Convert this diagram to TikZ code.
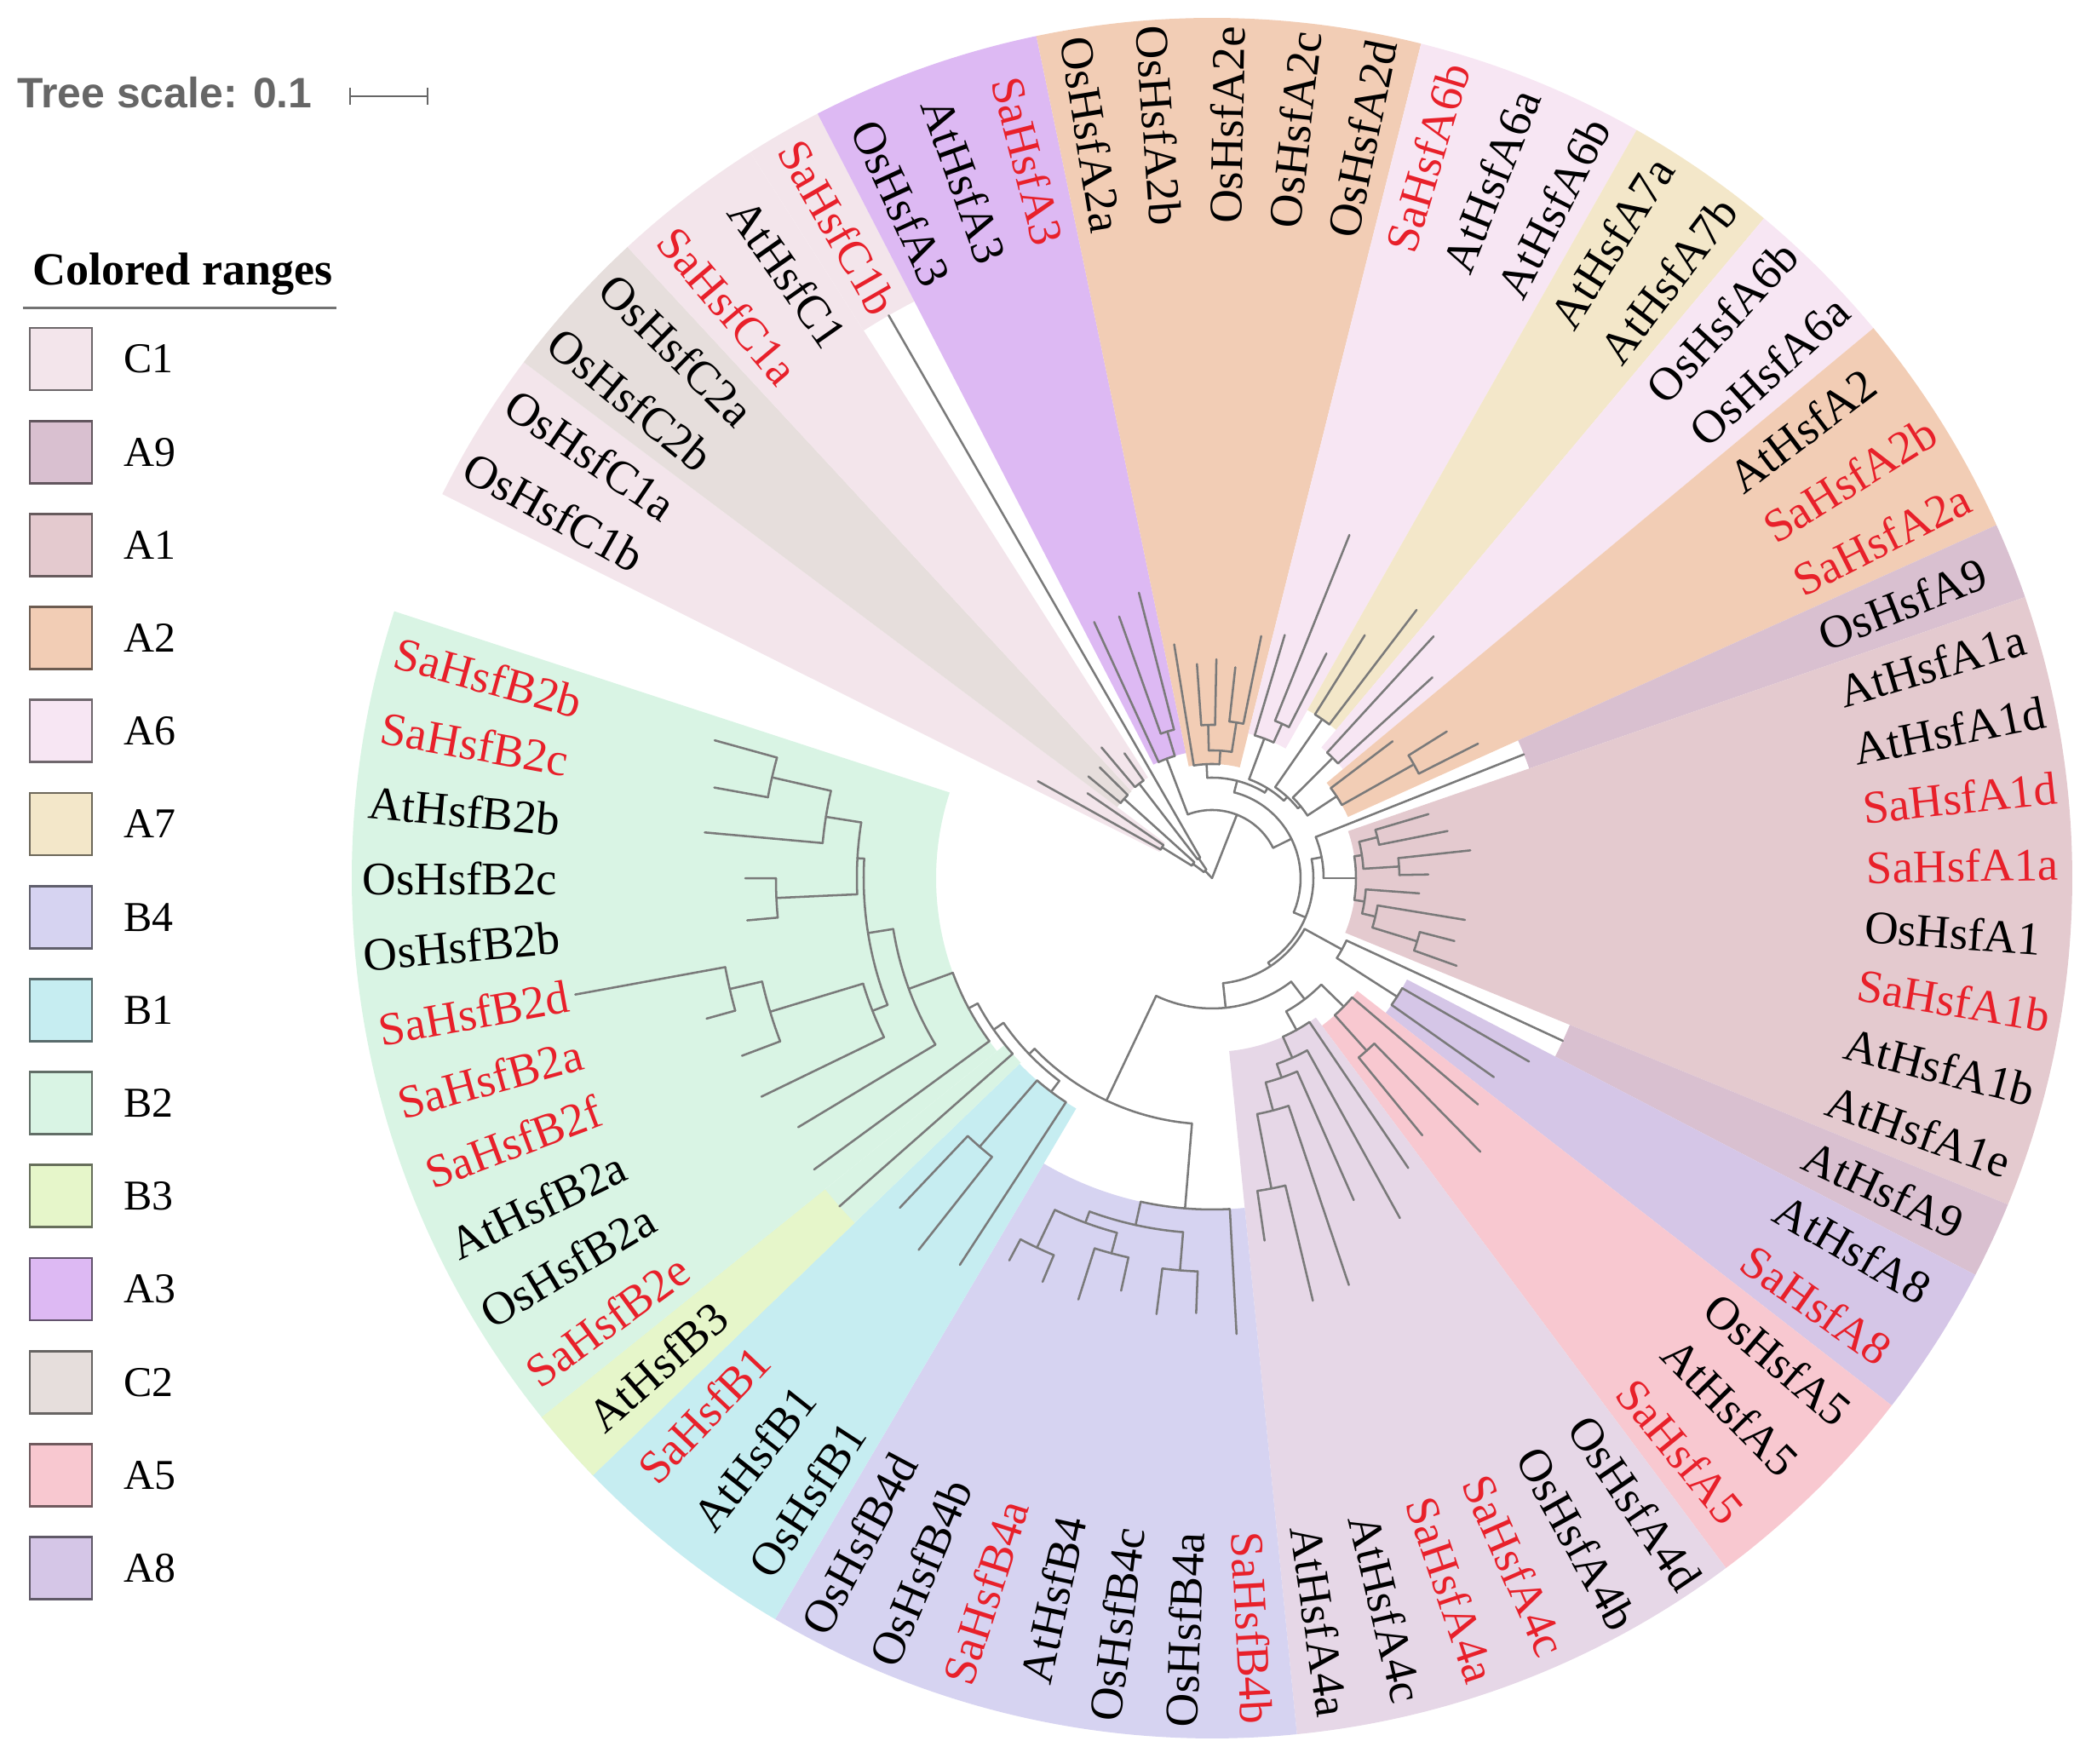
\documentclass[tikz,border=0pt]{standalone}
\usepackage{fontspec}
\setmainfont{Liberation Serif}
\newfontfamily\lsans{Liberation Sans}
\definecolor{treegray}{HTML}{7A7A7A}
\definecolor{labred}{HTML}{E8202A}
\definecolor{scalegray}{HTML}{666666}
\definecolor{cC1}{HTML}{F3E5EB}
\definecolor{cC2}{HTML}{E6DEDC}
\definecolor{cA3}{HTML}{DDB9F3}
\definecolor{cA2}{HTML}{F2CDB5}
\definecolor{cA6}{HTML}{F7E6F3}
\definecolor{cA7}{HTML}{F3E7C9}
\definecolor{cA9}{HTML}{D9C0D0}
\definecolor{cA1}{HTML}{E4CACF}
\definecolor{cA8}{HTML}{D5C6E7}
\definecolor{cA5}{HTML}{F8C8D0}
\definecolor{cA4}{HTML}{E6D7E7}
\definecolor{cB4}{HTML}{D6D3F1}
\definecolor{cB1}{HTML}{C6EDF1}
\definecolor{cB3}{HTML}{E6F6CA}
\definecolor{cB2}{HTML}{D9F4E4}
\newcommand\labfont{\fontsize{15.6}{18}\selectfont}
\newcommand\legfont{\fontsize{14.2}{16}\selectfont}
\newcommand\Rl[3]{\pgfmathsetmacro\rA{#2/100}\pgfmathsetmacro\rB{#3/100}\draw[br] (#1:\rA) -- (#1:\rB);}
\newcommand\Ar[3]{\pgfmathsetmacro\rC{#3/100}\draw[br] (#1:\rC) arc[start angle=#1, end angle=#2, radius=\rC];}
\newcommand\Rg[4]{\pgfmathsetmacro\rD{#3/100}\fill[#4] (#1:\rD) arc[start angle=#1,end angle=#2,radius=\rD] -- (#2:10.10) arc[start angle=#2,end angle=#1,radius=10.10] -- cycle;}
\begin{document}
\begin{tikzpicture}[
  br/.style={draw=treegray, line width=0.72pt, line cap=round, line join=round},
  labR/.style={anchor=west, inner sep=0pt, font=\labfont},
  labL/.style={anchor=east, inner sep=0pt, font=\labfont},
  sa/.style={text=labred}]
\useasboundingbox (-14.23,-10.40) rectangle (10.39,10.31);
% ---------- colored ranges ----------
\Rg{153.485}{143.145}{69}{cC1}
\Rg{143.145}{132.805}{139}{cC2}
\Rg{132.805}{122.465}{140}{cC1}
\Rg{122.465}{117.295}{762}{cC1}
\Rg{117.295}{101.785}{150}{cA3}
\Rg{101.785}{75.935}{134}{cA2}
\Rg{75.935}{60.425}{175}{cA6}
\Rg{60.425}{50.085}{227}{cA7}
\Rg{50.085}{39.745}{200}{cA6}
\Rg{39.745}{24.235}{175}{cA2}
\Rg{24.235}{19.065}{394}{cA9}
\Rg{19.065}{-22.295}{169}{cA1}
\Rg{-22.295}{-27.465}{454}{cA9}
\Rg{-27.465}{-37.805}{258}{cA8}
\Rg{-37.805}{-53.315}{216}{cA5}
\Rg{-53.315}{-84.335}{204}{cA4}
\Rg{-84.335}{-120.525}{389}{cB4}
\Rg{-120.525}{-136.035}{314}{cB1}
\Rg{-136.035}{-141.205}{312}{cB2}
\Rg{-136.035}{-141.205}{583}{cB3}
\Rg{-141.205}{-198.075}{324}{cB2}
% ---------- tree ----------
\Rl{133.45}{0}{12}\Rl{68.6055}{0}{80}
\Ar{143.145}{123.7575}{12}\Rl{143.145}{12}{28}\Rl{123.7575}{12}{28}
\Ar{148.315}{137.975}{28}\Rl{148.315}{28}{69}\Rl{137.975}{28}{139}
\Ar{127.635}{119.88}{28}\Rl{127.635}{28}{140}\Rl{119.88}{28}{762}
\Ar{150.9}{145.73}{69}\Rl{150.9}{69}{234}\Rl{145.73}{69}{177}
\Ar{140.56}{135.39}{139}\Rl{140.56}{139}{188}\Rl{135.39}{139}{185}
\Ar{130.22}{125.05}{140}\Rl{130.22}{140}{201}\Rl{125.05}{140}{179}
\Ar{110.8325}{26.3785}{80}\Rl{110.8325}{80}{150}\Rl{26.3785}{80}{104}
\Ar{114.71}{106.955}{150}\Rl{114.71}{150}{331}\Rl{106.955}{150}{180}
\Ar{109.54}{104.37}{180}\Rl{109.54}{180}{326}\Rl{104.37}{180}{346}
\Ar{75.531}{-22.774}{104}\Rl{75.531}{104}{118}\Rl{-22.774}{104}{119}
\Ar{92.7375}{58.3247}{118}\Rl{92.7375}{118}{134}\Rl{58.3247}{118}{124}
\Ar{99.2}{86.275}{134}\Rl{99.2}{134}{278}\Rl{86.275}{134}{150}
\Ar{91.445}{81.105}{150}\Rl{91.445}{150}{180}\Rl{81.105}{150}{185}
\Ar{94.03}{88.86}{180}\Rl{94.03}{180}{252}\Rl{88.86}{180}{257}
\Ar{83.69}{78.52}{185}\Rl{83.69}{185}{249}\Rl{78.52}{185}{290}
\Ar{69.4725}{47.1769}{124}\Rl{69.4725}{124}{175}\Rl{47.1769}{124}{130}
\Ar{73.35}{65.595}{175}\Rl{73.35}{175}{298}\Rl{65.595}{175}{199}
\Ar{68.18}{63.01}{199}\Rl{68.18}{199}{434}\Rl{63.01}{199}{296}
\Ar{55.255}{39.0988}{130}\Rl{55.255}{130}{227}\Rl{39.0988}{130}{134}
\Ar{57.84}{52.67}{227}\Rl{57.84}{227}{337}\Rl{52.67}{227}{396}
\Ar{44.915}{33.2825}{134}\Rl{44.915}{134}{200}\Rl{33.2825}{134}{175}
\Ar{47.5}{42.33}{200}\Rl{47.5}{200}{385}\Rl{42.33}{200}{350}
\Ar{37.16}{29.405}{175}\Rl{37.16}{175}{266}\Rl{29.405}{175}{272}
\Ar{31.99}{26.82}{272}\Rl{31.99}{272}{325}\Rl{26.82}{272}{350}
\Ar{10.8253}{-56.374}{119}\Rl{10.8253}{119}{131}\Rl{-56.374}{119}{124}
\Ar{21.65}{0.0006}{131}\Rl{21.65}{131}{394}\Rl{0.0006}{131}{169}
\Ar{8.725}{-8.7238}{169}\Rl{8.725}{169}{178}\Rl{-8.7238}{169}{181}
\Ar{13.895}{3.555}{178}\Rl{13.895}{178}{200}\Rl{3.555}{178}{220}
\Ar{16.48}{11.31}{200}\Rl{16.48}{200}{265}\Rl{11.31}{200}{282}
\Ar{6.14}{0.97}{220}\Rl{6.14}{220}{305}\Rl{0.97}{220}{254}
\Ar{-4.2}{-13.2475}{181}\Rl{-4.2}{181}{244}\Rl{-13.2475}{181}{197}
\Ar{-9.37}{-17.125}{197}\Rl{-9.37}{197}{301}\Rl{-17.125}{197}{252}
\Ar{-14.54}{-19.71}{252}\Rl{-14.54}{252}{294}\Rl{-19.71}{252}{305}
\Ar{-28.7575}{-83.99}{124}\Rl{-28.7575}{124}{174}\Rl{-83.99}{124}{153}
\Ar{-24.88}{-32.635}{174}\Rl{-24.88}{174}{454}\Rl{-32.635}{174}{258}
\Ar{-30.05}{-35.22}{258}\Rl{-30.05}{258}{430}\Rl{-35.22}{258}{405}
\Ar{-52.588}{-115.3955}{153}\Rl{-52.588}{153}{179}\Rl{-115.3955}{153}{289}
\Ar{-44.2675}{-60.9084}{179}\Rl{-44.2675}{179}{216}\Rl{-60.9084}{179}{204}
\Ar{-40.39}{-48.145}{216}\Rl{-40.39}{216}{410}\Rl{-48.145}{216}{272}
\Ar{-45.56}{-50.73}{272}\Rl{-45.56}{272}{450}\Rl{-50.73}{272}{390}
\Ar{-55.9}{-65.9169}{204}\Rl{-55.9}{204}{411}\Rl{-65.9169}{204}{231}
\Ar{-61.07}{-70.7638}{231}\Rl{-61.07}{231}{456}\Rl{-70.7638}{231}{248}
\Ar{-66.24}{-75.2875}{248}\Rl{-66.24}{248}{413}\Rl{-75.2875}{248}{282}
\Ar{-71.41}{-79.165}{282}\Rl{-71.41}{282}{504}\Rl{-79.165}{282}{371}
\Ar{-76.58}{-81.75}{371}\Rl{-76.58}{371}{510}\Rl{-81.75}{371}{430}
\Ar{-94.675}{-136.116}{289}\Rl{-94.675}{289}{389}\Rl{-136.116}{289}{298}
\Ar{-86.92}{-102.43}{389}\Rl{-86.92}{389}{536}\Rl{-102.43}{389}{417}
\Ar{-94.675}{-110.185}{417}\Rl{-94.675}{417}{462}\Rl{-110.185}{417}{431}
\Ar{-92.09}{-97.26}{462}\Rl{-92.09}{462}{511}\Rl{-97.26}{462}{516}
\Ar{-105.015}{-115.355}{431}\Rl{-105.015}{431}{456}\Rl{-115.355}{431}{480}
\Ar{-102.43}{-107.6}{456}\Rl{-102.43}{456}{496}\Rl{-107.6}{456}{519}
\Ar{-112.77}{-117.94}{480}\Rl{-112.77}{480}{514}\Rl{-117.94}{480}{508}
\Ar{-126.9875}{-145.244}{298}\Rl{-126.9875}{298}{314}\Rl{-145.244}{298}{312}
\Ar{-123.11}{-130.865}{314}\Rl{-123.11}{314}{542}\Rl{-130.865}{314}{417}
\Ar{-128.28}{-133.45}{417}\Rl{-128.28}{417}{556}\Rl{-133.45}{417}{533}
\Ar{-138.62}{-151.868}{312}\Rl{-138.62}{312}{583}\Rl{-151.868}{312}{324}
\Ar{-143.79}{-159.9463}{324}\Rl{-143.79}{324}{579}\Rl{-159.9463}{324}{379}
\Ar{-148.96}{-170.9325}{379}\Rl{-148.96}{379}{567}\Rl{-170.9325}{379}{409}
\Ar{-158.6538}{-183.2113}{409}\Rl{-158.6538}{409}{428}\Rl{-183.2113}{409}{417}
\Ar{-154.13}{-163.1775}{428}\Rl{-154.13}{428}{588}\Rl{-163.1775}{428}{542}
\Ar{-159.3}{-167.055}{542}\Rl{-159.3}{542}{590}\Rl{-167.055}{542}{581}
\Ar{-164.47}{-169.64}{581}\Rl{-164.47}{581}{616}\Rl{-169.64}{581}{760}
\Ar{-177.395}{-189.0275}{417}\Rl{-177.395}{417}{512}\Rl{-189.0275}{417}{459}
\Ar{-174.81}{-179.98}{512}\Rl{-174.81}{512}{548}\Rl{-179.98}{512}{548}
\Ar{-185.15}{-192.905}{459}\Rl{-185.15}{459}{598}\Rl{-192.905}{459}{530}
\Ar{-190.32}{-195.49}{530}\Rl{-190.32}{530}{594}\Rl{-195.49}{530}{606}
% ---------- leaf labels ----------
\node[labL,rotate=-29.10] (l1) at (150.90:7.68) {OsHsfC1b};
\node[labL,rotate=-34.27] (l2) at (145.73:7.68) {OsHsfC1a};
\node[labL,rotate=-39.44] (l3) at (140.56:7.68) {OsHsfC2b};
\node[labL,rotate=-44.61] (l4) at (135.39:7.68) {OsHsfC2a};
\node[labL,sa,rotate=-49.78] (l5) at (130.22:7.68) {SaHsfC1a};
\node[labL,rotate=-54.95] (l6) at (125.05:7.68) {AtHsfC1};
\node[labL,sa,rotate=-60.12] (l7) at (119.88:7.68) {SaHsfC1b};
\node[labL,rotate=-65.29] (l8) at (114.71:7.68) {OsHsfA3};
\node[labL,rotate=-70.46] (l9) at (109.54:7.68) {AtHsfA3};
\node[labL,sa,rotate=-75.63] (l10) at (104.37:7.68) {SaHsfA3};
\node[labL,rotate=-80.80] (l11) at (99.20:7.68) {OsHsfA2a};
\node[labL,rotate=-85.97] (l12) at (94.03:7.68) {OsHsfA2b};
\node[labR,rotate=88.86] (l13) at (88.86:7.68) {OsHsfA2e};
\node[labR,rotate=83.69] (l14) at (83.69:7.68) {OsHsfA2c};
\node[labR,rotate=78.52] (l15) at (78.52:7.68) {OsHsfA2d};
\node[labR,sa,rotate=73.35] (l16) at (73.35:7.68) {SaHsfA6b};
\node[labR,rotate=68.18] (l17) at (68.18:7.68) {AtHsfA6a};
\node[labR,rotate=63.01] (l18) at (63.01:7.68) {AtHsfA6b};
\node[labR,rotate=57.84] (l19) at (57.84:7.68) {AtHsfA7a};
\node[labR,rotate=52.67] (l20) at (52.67:7.68) {AtHsfA7b};
\node[labR,rotate=47.50] (l21) at (47.50:7.68) {OsHsfA6b};
\node[labR,rotate=42.33] (l22) at (42.33:7.68) {OsHsfA6a};
\node[labR,rotate=37.16] (l23) at (37.16:7.68) {AtHsfA2};
\node[labR,sa,rotate=31.99] (l24) at (31.99:7.68) {SaHsfA2b};
\node[labR,sa,rotate=26.82] (l25) at (26.82:7.68) {SaHsfA2a};
\node[labR,rotate=21.65] (l26) at (21.65:7.68) {OsHsfA9};
\node[labR,rotate=16.48] (l27) at (16.48:7.68) {AtHsfA1a};
\node[labR,rotate=11.31] (l28) at (11.31:7.68) {AtHsfA1d};
\node[labR,sa,rotate=6.14] (l29) at (6.14:7.68) {SaHsfA1d};
\node[labR,sa,rotate=0.97] (l30) at (0.97:7.68) {SaHsfA1a};
\node[labR,rotate=-4.20] (l31) at (-4.20:7.68) {OsHsfA1};
\node[labR,sa,rotate=-9.37] (l32) at (-9.37:7.68) {SaHsfA1b};
\node[labR,rotate=-14.54] (l33) at (-14.54:7.68) {AtHsfA1b};
\node[labR,rotate=-19.71] (l34) at (-19.71:7.68) {AtHsfA1e};
\node[labR,rotate=-24.88] (l35) at (-24.88:7.68) {AtHsfA9};
\node[labR,rotate=-30.05] (l36) at (-30.05:7.68) {AtHsfA8};
\node[labR,sa,rotate=-35.22] (l37) at (-35.22:7.68) {SaHsfA8};
\node[labR,rotate=-40.39] (l38) at (-40.39:7.68) {OsHsfA5};
\node[labR,rotate=-45.56] (l39) at (-45.56:7.68) {AtHsfA5};
\node[labR,sa,rotate=-50.73] (l40) at (-50.73:7.68) {SaHsfA5};
\node[labR,rotate=-55.90] (l41) at (-55.90:7.68) {OsHsfA4d};
\node[labR,rotate=-61.07] (l42) at (-61.07:7.68) {OsHsfA4b};
\node[labR,sa,rotate=-66.24] (l43) at (-66.24:7.68) {SaHsfA4c};
\node[labR,sa,rotate=-71.41] (l44) at (-71.41:7.68) {SaHsfA4a};
\node[labR,rotate=-76.58] (l45) at (-76.58:7.68) {AtHsfA4c};
\node[labR,rotate=-81.75] (l46) at (-81.75:7.68) {AtHsfA4a};
\node[labR,sa,rotate=-86.92] (l47) at (-86.92:7.68) {SaHsfB4b};
\node[labL,rotate=87.91] (l48) at (-92.09:7.68) {OsHsfB4a};
\node[labL,rotate=82.74] (l49) at (-97.26:7.68) {OsHsfB4c};
\node[labL,rotate=77.57] (l50) at (-102.43:7.68) {AtHsfB4};
\node[labL,sa,rotate=72.40] (l51) at (-107.60:7.68) {SaHsfB4a};
\node[labL,rotate=67.23] (l52) at (-112.77:7.68) {OsHsfB4b};
\node[labL,rotate=62.06] (l53) at (-117.94:7.68) {OsHsfB4d};
\node[labL,rotate=56.89] (l54) at (-123.11:7.68) {OsHsfB1};
\node[labL,rotate=51.72] (l55) at (-128.28:7.68) {AtHsfB1};
\node[labL,sa,rotate=46.55] (l56) at (-133.45:7.68) {SaHsfB1};
\node[labL,rotate=41.38] (l57) at (-138.62:7.68) {AtHsfB3};
\node[labL,sa,rotate=36.21] (l58) at (-143.79:7.68) {SaHsfB2e};
\node[labL,rotate=31.04] (l59) at (-148.96:7.68) {OsHsfB2a};
\node[labL,rotate=25.87] (l60) at (-154.13:7.68) {AtHsfB2a};
\node[labL,sa,rotate=20.70] (l61) at (-159.30:7.68) {SaHsfB2f};
\node[labL,sa,rotate=15.53] (l62) at (-164.47:7.68) {SaHsfB2a};
\node[labL,sa,rotate=10.36] (l63) at (-169.64:7.68) {SaHsfB2d};
\node[labL,rotate=5.19] (l64) at (-174.81:7.68) {OsHsfB2b};
\node[labL,rotate=0.02] (l65) at (-179.98:7.68) {OsHsfB2c};
\node[labL,rotate=-5.15] (l66) at (-185.15:7.68) {AtHsfB2b};
\node[labL,sa,rotate=-10.32] (l67) at (-190.32:7.68) {SaHsfB2c};
\node[labL,sa,rotate=-15.49] (l68) at (-195.49:7.68) {SaHsfB2b};
% ---------- tree scale ----------
\node[anchor=base west, inner sep=0pt, text=scalegray, font=\lsans\bfseries\fontsize{14.2}{16}\selectfont] (ts) at (-14.03,9.04) {Tree scale: 0.1};
\coordinate (sb1) at (-10.12,9.18);
\coordinate (sb2) at (-9.21,9.18);
\draw[scalegray, line width=0.7pt] (sb1) -- (sb2);
\draw[scalegray, line width=0.7pt] ([yshift=-0.1cm]sb1) -- ([yshift=0.1cm]sb1);
\draw[scalegray, line width=0.7pt] ([yshift=-0.1cm]sb2) -- ([yshift=0.1cm]sb2);
% ---------- legend ----------
\node[anchor=base west, inner sep=0pt, font=\bfseries\fontsize{15.4}{18}\selectfont] (cr) at (-13.855,6.96) {Colored ranges};
\coordinate (ul1) at (-13.96,6.69);
\coordinate (ul2) at (-10.28,6.69);
\draw[black!55, line width=0.85pt] (ul1) -- (ul2);
\foreach \nm/\cl [count=\k from 0] in {C1/cC1,A9/cA9,A1/cA1,A2/cA2,A6/cA6,A7/cA7,B4/cB4,B1/cB1,B2/cB2,B3/cB3,A3/cA3,C2/cC2,A5/cA5,A8/cA8}{
  \pgfmathsetmacro\yc{6.095-1.092*\k}
  \filldraw[fill=\cl, draw=\cl!45!black, line width=0.8pt] (-13.88,\yc-0.365) rectangle (-13.15,\yc+0.365);
  \node[anchor=base west, inner sep=0pt, font=\legfont] (lg\k) at (-12.78,\yc-0.165) {\nm};
}
\end{tikzpicture}
\end{document}
